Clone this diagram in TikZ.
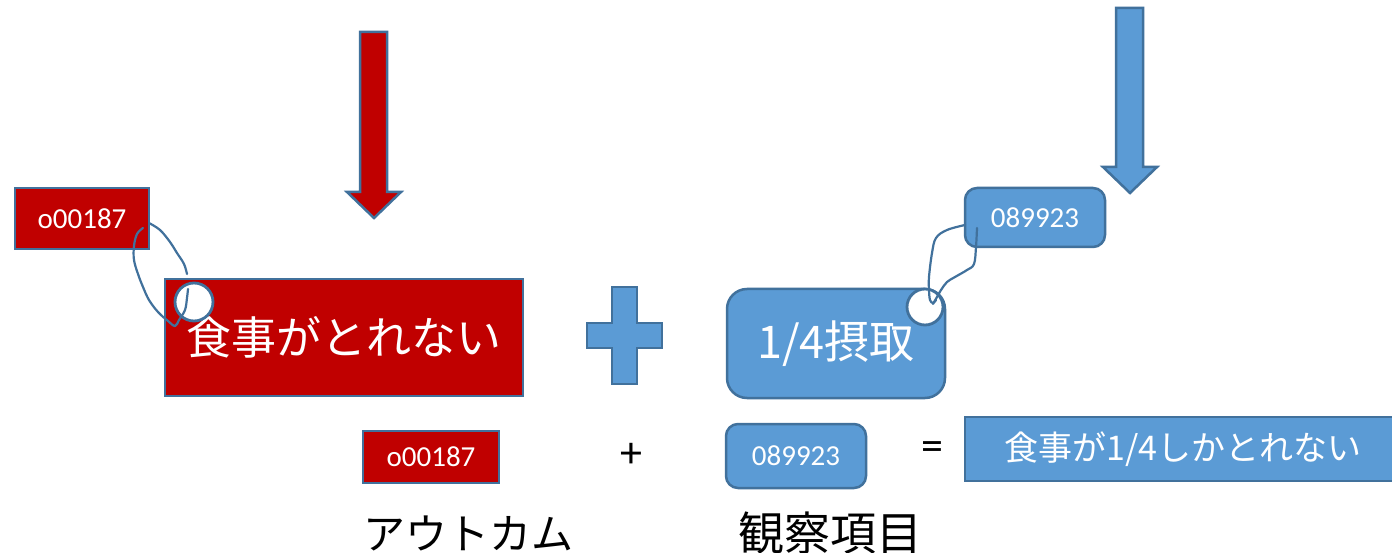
\documentclass[tikz,border=0pt]{standalone}
\usepackage{fontspec}
\setmainfont{Carlito}
\newfontfamily\jp{Noto Sans CJK JP}
\definecolor{dred}{HTML}{C00000}
\definecolor{bfill}{HTML}{5B9BD5}
\definecolor{bline}{HTML}{41719C}
\begin{document}
\begin{tikzpicture}[x=1pt,y=-1pt,
  box/.style={draw=bline, line width=2.5pt, text=white, inner sep=0pt, outer sep=0pt, align=center},
  redbox/.style={box, fill=dred},
  bluebox/.style={box, fill=bfill},
  shapeblk/.style={draw=bline, line width=2.5pt, line join=miter},
  tail/.style={draw=bline, line width=2.2pt, line cap=round, line join=round},
  knob/.style={circle, draw=bline, fill=white, line width=2.8pt, inner sep=0pt, outer sep=0pt},
  small/.style={font=\fontsize{29}{31}\selectfont},
  sign/.style={font=\fontsize{44}{46}\selectfont},
  big/.style={font=\jp\fontsize{45}{50}\selectfont}
]
\useasboundingbox (0,0) rectangle (1392,553);
\clip (0,0) rectangle (1392,553);
\fill[white] (0,0) rectangle (1392,553);

% down arrows
\filldraw[shapeblk, fill=dred] (360,32) -- (387,32) -- (387,192) -- (401,192) -- (374,218) -- (347,192) -- (360,192) -- cycle;
\filldraw[shapeblk, fill=bfill] (1116,8) -- (1143,8) -- (1143,167) -- (1157,167) -- (1130,193) -- (1103,167) -- (1116,167) -- cycle;

% plus shape
\filldraw[shapeblk, fill=bfill] (612,287) -- (637,287) -- (637,323) -- (662,323) -- (662,348) -- (637,348) -- (637,384) -- (612,384) -- (612,348) -- (587,348) -- (587,323) -- (612,323) -- cycle;

% top row boxes
\node[redbox, small, minimum width=134pt, minimum height=61pt] (sr) at (82,218.5) {o00187};
\node[redbox, big, minimum width=358pt, minimum height=117pt] (mr) at (344,337.5) {食事がとれない};
\node[bluebox, small, rounded corners=12pt, minimum width=140pt, minimum height=59pt] (sb) at (1035,217.5) {089923};
\node[bluebox, big, rounded corners=20pt, minimum width=218pt, minimum height=109pt] (mb) at (836,343.5) {1/4摂取};

% knobs
\node[knob, minimum size=38pt] (kr) at (194,302) {};
\node[knob, minimum size=36pt] (kb) at (925,307) {};

% hand drawn tails
\draw[tail] plot[smooth, tension=0.6] coordinates {(149,223) (160,230) (170,242) (177,253) (184,264) (187,274)};
\draw[tail] plot[smooth, tension=0.6] coordinates {(143,228) (137,234) (134,246) (134,260) (138,274) (143,287) (149,300) (158,312) (168,321) (175,326) (179,320) (185,310) (187,298) (188,289)};
\draw[tail] plot[smooth, tension=0.6] coordinates {(965,225) (947,230) (936,238) (932,253) (929,277) (929,290) (930,300) (933,303) (936,300)};
\draw[tail] plot[smooth, tension=0.6] coordinates {(977,228) (976,247) (974,264) (967,270) (955,277) (947,282) (941,290) (937,297) (933,304)};

% bottom row
\node[redbox, small, minimum width=136pt, minimum height=52pt] (br) at (431,457) {o00187};
\node[sign] (plus) at (631,455) {+};
\node[bluebox, small, rounded corners=12pt, minimum width=140pt, minimum height=64pt] (bb) at (796,456) {089923};
\node[sign] (eq) at (932,451) {=};
\node[bluebox, font=\jp\fontsize{34}{38}\selectfont, minimum width=436pt, minimum height=64pt] (res) at (1183,449) {食事が1/4しかとれない};

% captions
\node[font=\jp\fontsize{42}{46}\selectfont, anchor=west] (cap1) at (360,533) {アウトカム};
\node[font=\jp\fontsize{46}{50}\selectfont, anchor=west] (cap2) at (735,533) {観察項目};
\end{tikzpicture}
\end{document}
